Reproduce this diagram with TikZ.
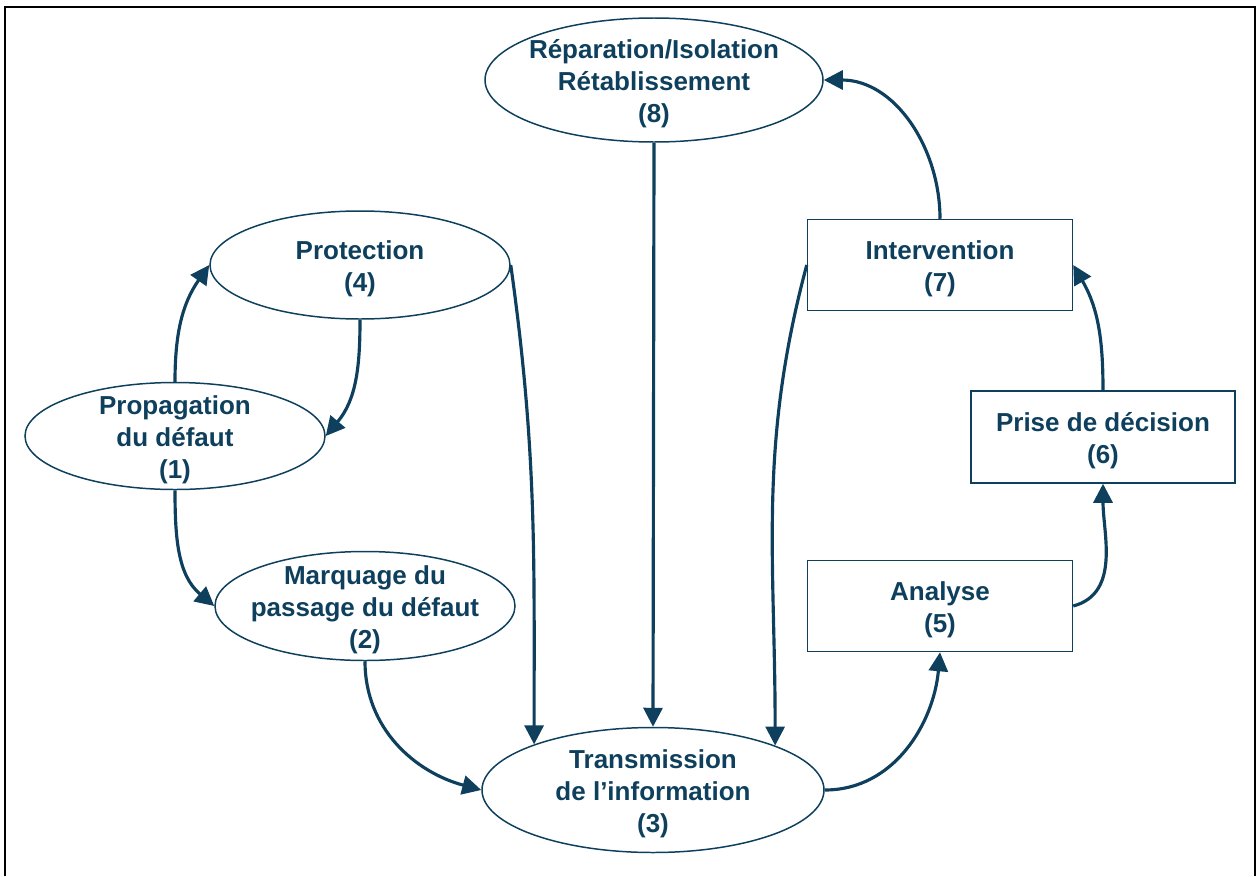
\documentclass[tikz,border=0pt]{standalone}
\usepackage{fontspec}
\setmainfont{Liberation Sans}
\usetikzlibrary{shapes.geometric, arrows.meta, positioning, calc}
\definecolor{bleufonce}{RGB}{14,64,94}

\begin{document}
\begin{tikzpicture}[->, >={Triangle[length=0.38cm,width=0.38cm]}, line width=1.8pt, draw=bleufonce,
  every node/.style = {align=center, font=\fontsize{14.8}{18.2}\selectfont\bfseries, text=bleufonce},
  every label/.style = {yshift=-0.07cm},
  phase/.style = {shape=ellipse, draw=bleufonce, line width=0.85pt, inner sep=0pt},
  etape/.style = {shape=rectangle, draw=bleufonce, line width=0.85pt, inner sep=0pt, minimum width=5.3cm, minimum height=1.82cm}]
  \useasboundingbox (0,0) rectangle (25.14,-17.52);
  \draw[-, black, line width=1.2pt] (0.1,-17.52) |- (25.1,-0.14) -- (25.1,-17.52);
  % ellipses
  \node[phase, minimum width=6.76cm, minimum height=2.48cm,
    label={center:Réparation/Isolation\\Rétablissement\\(8)}] (repar) at (13.08,-1.60) {};
  \node[phase, minimum width=6.0cm, minimum height=2.16cm,
    label={center:Protection\\(4)}] (protec) at (7.20,-5.30) {};
  \node[phase, minimum width=6.0cm, minimum height=2.14cm,
    label={center:Propagation\\du défaut\\(1)}] (propag) at (3.50,-8.72) {};
  \node[phase, minimum width=6.0cm, minimum height=2.18cm,
    label={center:Marquage du\\passage du défaut\\(2)}] (marq) at (7.30,-12.12) {};
  \node[phase, minimum width=6.84cm, minimum height=2.50cm,
    label={center:Transmission\\de l’information\\(3)}] (transm) at (13.06,-15.80) {};
  % boxes
  \node[etape, label={center:Intervention\\(7)}] (interv) at (18.80,-5.30) {};
  \node[etape, minimum width=5.28cm, minimum height=1.84cm,
    label={center:Prise de décision\\(6)}] (prise) at (22.06,-8.74) {};
  \node[etape, label={center:Analyse\\(5)}] (analyse) at (18.80,-12.12) {};
  % arrows
  \draw (propag.north) to[out=90, in=235] (protec.west);
  \draw (protec.south) to[out=-90, in=50] (propag.east);
  \draw (propag.south) to[out=-90, in=140] (marq.west);
  \draw (marq.south) to[out=-90, in=165] (transm.west);
  \draw (protec.east) to[out=-82, in=90] (transm.159.8);
  \draw (repar.south) -- (transm.north);
  \draw (interv.west) to[out=-105, in=90] (transm.20.2);
  \draw (transm.east) to[out=0, in=-95] (analyse.south);
  \draw (analyse.east) to[out=15, in=-90] (prise.south);
  \draw (prise.north) to[out=90, in=-60] (interv.east);
  \draw (interv.north) to[out=90, in=0] (repar.east);
\end{tikzpicture}
\end{document}
